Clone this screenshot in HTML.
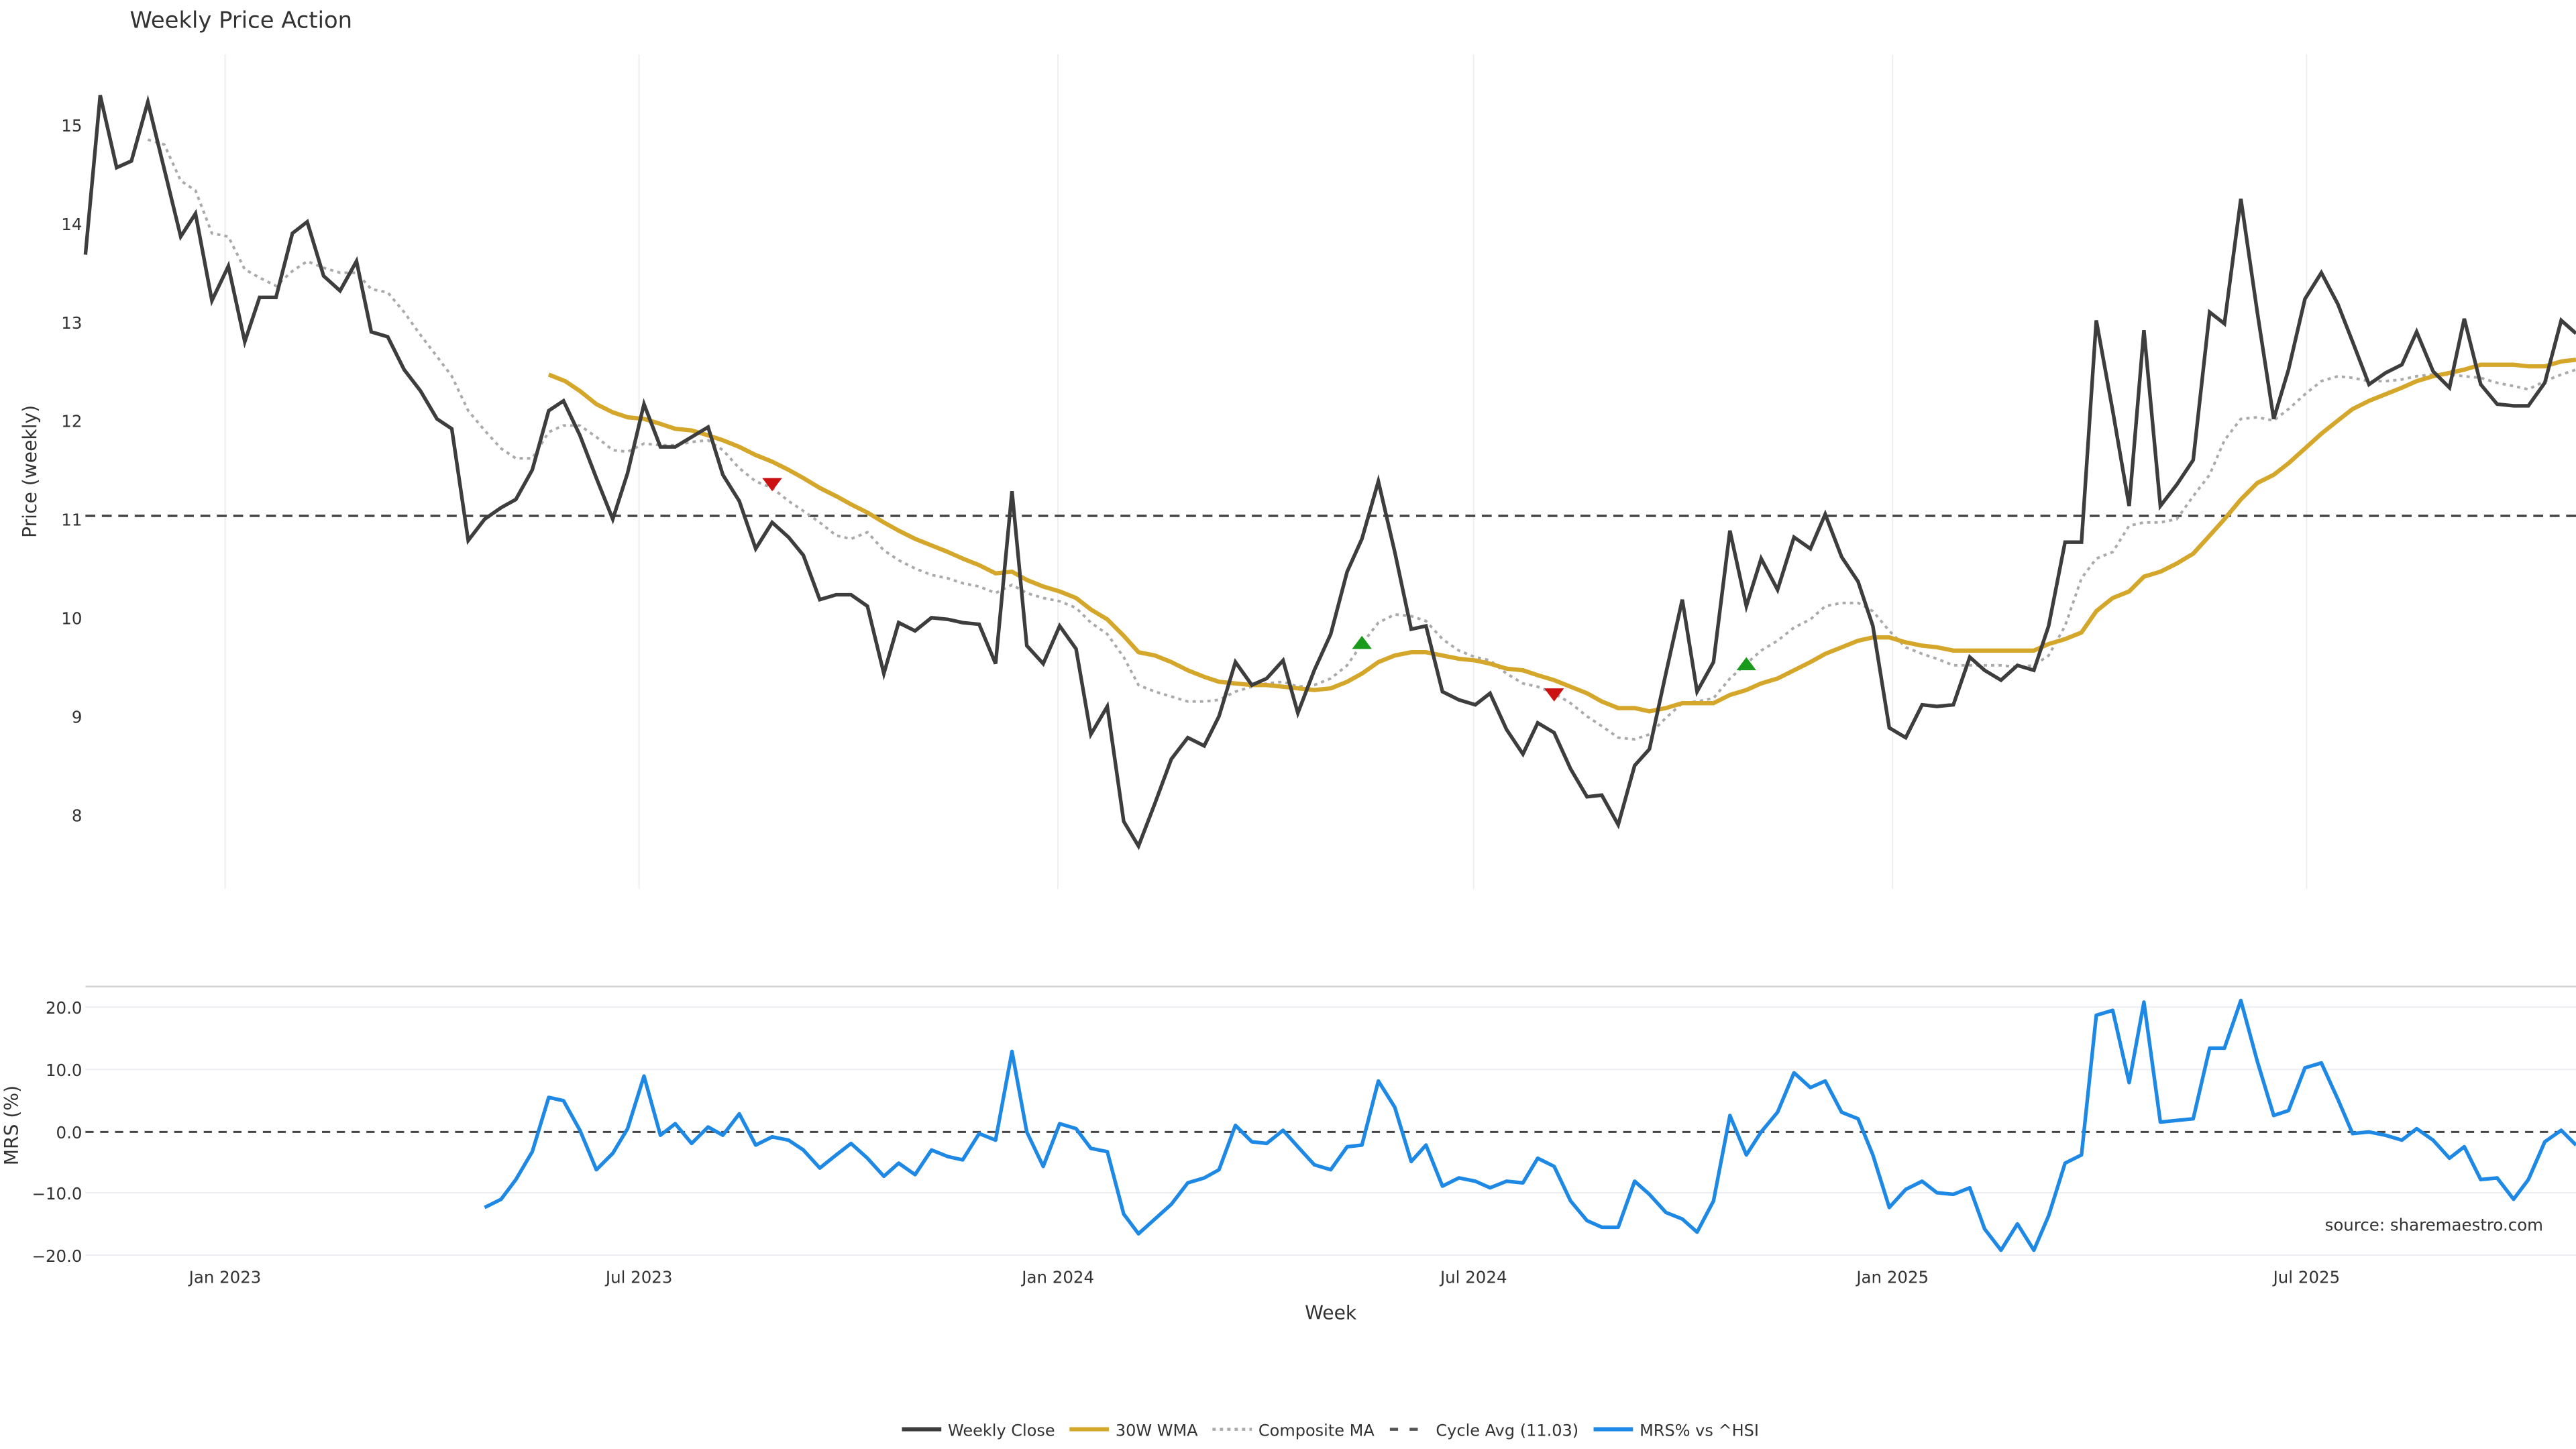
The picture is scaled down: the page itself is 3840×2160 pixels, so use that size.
<!DOCTYPE html>
<html><head><meta charset="utf-8"><style>
html,body{margin:0;padding:0;background:#fff;}
svg{display:block;}
text{font-family:"DejaVu Sans","Liberation Sans",sans-serif;fill:#333;}
</style></head><body>
<svg width="3840" height="2160" viewBox="0 0 1568 882" xmlns="http://www.w3.org/2000/svg">
<rect width="1568" height="882" fill="#fff"/>
<text x="79" y="17" font-size="13.8" fill="#333">Weekly Price Action</text>
<g stroke="#eceef2" stroke-width="0.8">
<line x1="137" y1="33" x2="137" y2="541"/><line x1="389" y1="33" x2="389" y2="541"/>
<line x1="644" y1="33" x2="644" y2="541"/><line x1="897" y1="33" x2="897" y2="541"/>
<line x1="1152" y1="33" x2="1152" y2="541"/><line x1="1404" y1="33" x2="1404" y2="541"/>
</g>
<g font-size="10" text-anchor="end" fill="#444">
<text x="50" y="80">15</text><text x="50" y="140">14</text><text x="50" y="200">13</text>
<text x="50" y="260">12</text><text x="50" y="320">11</text><text x="50" y="380">10</text>
<text x="50" y="440">9</text><text x="50" y="500">8</text>
</g>
<text transform="translate(22,287) rotate(-90)" font-size="11.5" text-anchor="middle">Price (weekly)</text>
<line x1="52" y1="314" x2="1568" y2="314" stroke="#444" stroke-width="1.4" stroke-dasharray="6,4"/>
<polyline fill="none" stroke="#aaa" stroke-width="1.6" stroke-dasharray="2,2.5" points="90,85 100,88 110,110 119,116 129,142 139,144 149,164 158,169 168,174 178,165 187,159 197,163 207,166 217,166 226,176 236,178 246,190 256,204 266,217 275,229 285,250 295,262 305,273 314,279 324,279 334,263 343,259 353,259 363,266 373,274 382,275 392,270 402,271 411,271 421,269 431,268 440,274 450,285 460,293 470,297 480,305 489,311 499,318 509,326 518,328 528,324 538,335 547,341 557,346 567,350 577,352 586,355 596,357 606,361 616,356 625,361 635,364 645,366 655,370 664,379 674,386 684,400 693,417 703,421 713,424 723,427 733,427 742,426 752,421 762,418 771,416 781,415 790,418 800,417 810,413 820,405 829,392 839,379 849,374 859,375 868,378 878,389 888,396 898,400 907,402 917,410 927,416 936,418 946,422 956,428 966,436 975,442 985,449 995,450 1004,447 1014,437 1024,428 1033,427 1043,425 1053,413 1063,404 1072,396 1082,390 1092,382 1102,377 1111,369 1121,367 1131,367 1140,372 1150,384 1160,394 1170,398 1179,401 1189,405 1199,405 1208,405 1218,405 1228,406 1238,405 1247,399 1257,381 1267,352 1276,340 1286,336 1296,320 1305,318 1315,318 1325,316 1335,302 1345,289 1354,268 1364,255 1374,254 1384,256 1393,249 1403,240 1413,232 1423,229 1432,230 1442,232 1452,232 1462,231 1471,229 1481,228 1491,228 1500,229 1510,230 1520,233 1530,235 1539,237 1549,232 1559,228 1568,225"/>
<polyline fill="none" stroke="#d4a62a" stroke-width="2.6" stroke-linejoin="round" points="334,228 344,232 353,238 363,246 373,251 382,254 392,255 402,258 411,261 421,262 431,265 440,268 450,272 460,277 470,281 480,286 489,291 499,297 509,302 518,307 528,312 538,318 547,323 557,328 567,332 577,336 586,340 596,344 606,349 616,348 625,353 635,357 645,360 655,364 664,371 674,377 684,387 693,397 703,399 713,403 723,408 733,412 742,415 752,416 762,417 771,417 781,418 790,419 800,420 810,419 820,415 829,410 839,403 849,399 859,397 868,397 878,399 888,401 898,402 907,404 917,407 927,408 936,411 946,414 956,418 966,422 975,427 985,431 995,431 1004,433 1014,431 1024,428 1033,428 1043,428 1053,423 1063,420 1072,416 1082,413 1092,408 1102,403 1111,398 1121,394 1131,390 1140,388 1150,388 1160,391 1170,393 1179,394 1189,396 1199,396 1208,396 1218,396 1228,396 1238,396 1247,392 1257,389 1267,385 1276,372 1286,364 1296,360 1305,351 1315,348 1325,343 1335,337 1345,326 1354,316 1364,304 1374,294 1384,289 1393,282 1403,273 1413,264 1423,256 1432,249 1442,244 1452,240 1462,236 1471,232 1481,229 1491,227 1500,225 1510,222 1520,222 1530,222 1539,223 1549,223 1559,220 1568,219"/>
<polyline fill="none" stroke="#3d3d3d" stroke-width="2.2" stroke-linejoin="miter" points="52,155 61,58 71,102 80,98 90,62 100,103 110,144 119,130 129,183 139,162 149,208 158,181 168,181 178,142 187,135 197,168 207,177 217,159 226,202 236,205 246,225 256,238 266,255 275,261 285,329 295,316 305,309 314,304 324,286 334,250 343,244 353,265 363,291 373,316 382,288 392,246 402,272 411,272 421,266 431,260 440,289 450,305 460,334 470,318 480,327 489,338 499,365 509,362 518,362 528,369 538,410 547,379 557,384 567,376 577,377 586,379 596,380 606,404 616,299 625,393 635,404 645,381 655,395 664,447 674,430 684,500 693,515 703,489 713,462 723,449 733,454 742,436 752,403 762,417 771,413 781,402 790,434 800,408 810,386 820,348 829,328 839,293 849,336 859,383 868,381 878,421 888,426 898,429 907,422 917,444 927,459 936,440 946,446 956,468 966,485 975,484 985,502 995,466 1004,456 1014,410 1024,365 1033,421 1043,403 1053,323 1063,369 1072,340 1082,359 1092,327 1102,334 1111,313 1121,339 1131,354 1140,381 1150,443 1160,449 1170,429 1179,430 1189,429 1199,400 1208,408 1218,414 1228,405 1238,408 1247,381 1257,330 1267,330 1276,195 1286,250 1296,308 1305,201 1315,308 1325,295 1335,280 1345,190 1354,197 1364,121 1374,190 1384,255 1393,225 1403,182 1413,166 1423,185 1432,208 1442,234 1452,227 1462,222 1471,202 1481,226 1491,236 1500,194 1510,234 1520,246 1530,247 1539,247 1549,233 1559,195 1568,203"/>
<polygon points="464,291 476,291 470,299" fill="#cc1111"/>
<polygon points="940,419 952,419 946,427" fill="#cc1111"/>
<polygon points="823,395 835,395 829,387" fill="#1a9a1a"/>
<polygon points="1057,408 1069,408 1063,400" fill="#1a9a1a"/>
<line x1="52" y1="600.5" x2="1568" y2="600.5" stroke="#d4d4d4" stroke-width="1"/>
<g stroke="#eceef2" stroke-width="0.8">
<line x1="52" y1="613" x2="1568" y2="613"/><line x1="52" y1="651" x2="1568" y2="651"/>
<line x1="52" y1="726" x2="1568" y2="726"/><line x1="52" y1="764" x2="1568" y2="764"/>
</g>
<g font-size="10" text-anchor="end" fill="#444">
<text x="50" y="617">20.0</text><text x="50" y="655">10.0</text><text x="50" y="693">0.0</text>
<text x="50" y="730">−10.0</text><text x="50" y="768">−20.0</text>
</g>
<text transform="translate(11,685) rotate(-90)" font-size="11.5" text-anchor="middle">MRS (%)</text>
<line x1="52" y1="689" x2="1568" y2="689" stroke="#444" stroke-width="1.2" stroke-dasharray="5,4"/>
<polyline fill="none" stroke="#1e88e5" stroke-width="2.2" stroke-linejoin="round" points="295,735 305,730 314,718 324,701 334,668 343,670 353,688 363,712 373,702 382,687 392,655 402,691 411,684 421,696 431,686 440,691 450,678 460,697 470,692 480,694 489,700 499,711 509,703 518,696 528,705 538,716 547,708 557,715 567,700 577,704 586,706 596,690 606,694 616,640 625,689 635,710 645,684 655,687 664,699 674,701 684,739 693,751 703,742 713,733 723,720 733,717 742,712 752,685 762,695 771,696 781,688 790,698 800,709 810,712 820,698 829,697 839,658 849,674 859,707 868,697 878,722 888,717 898,719 907,723 917,719 927,720 936,705 946,710 956,731 966,743 975,747 985,747 995,719 1004,727 1014,738 1024,742 1033,750 1043,731 1053,679 1063,703 1072,689 1082,677 1092,653 1102,662 1111,658 1121,677 1131,681 1140,703 1150,735 1160,724 1170,719 1179,726 1189,727 1199,723 1208,748 1218,761 1228,745 1238,761 1247,740 1257,708 1267,703 1276,618 1286,615 1296,659 1305,610 1315,683 1325,682 1335,681 1345,638 1354,638 1364,609 1374,646 1384,679 1393,676 1403,650 1413,647 1423,669 1432,690 1442,689 1452,691 1462,694 1471,687 1481,694 1491,705 1500,698 1510,718 1520,717 1530,730 1539,718 1549,695 1559,688 1568,697"/>
<text x="1548" y="749" font-size="10" text-anchor="end" fill="#aaa">source: sharemaestro.com</text>
<g font-size="10" text-anchor="middle" fill="#444">
<text x="137" y="781">Jan 2023</text><text x="389" y="781">Jul 2023</text>
<text x="644" y="781">Jan 2024</text><text x="897" y="781">Jul 2024</text>
<text x="1152" y="781">Jan 2025</text><text x="1404" y="781">Jul 2025</text>
</g>
<text x="810" y="803" font-size="11.5" text-anchor="middle">Week</text>
<g font-size="9.8" fill="#333">
<line x1="549" y1="870" x2="573" y2="870" stroke="#3d3d3d" stroke-width="2.5"/><text x="577" y="874">Weekly Close</text>
<line x1="651" y1="870" x2="675" y2="870" stroke="#d4a62a" stroke-width="2.5"/><text x="679" y="874">30W WMA</text>
<line x1="738" y1="870" x2="762" y2="870" stroke="#aaa" stroke-width="1.8" stroke-dasharray="2,2.5"/><text x="766" y="874">Composite MA</text>
<line x1="846" y1="870" x2="870" y2="870" stroke="#555" stroke-width="1.8" stroke-dasharray="5,7"/><text x="874" y="874">Cycle Avg (11.03)</text>
<line x1="970" y1="870" x2="994" y2="870" stroke="#1e88e5" stroke-width="2.5"/><text x="998" y="874">MRS% vs ^HSI</text>
</g>
</svg>
</body></html>
